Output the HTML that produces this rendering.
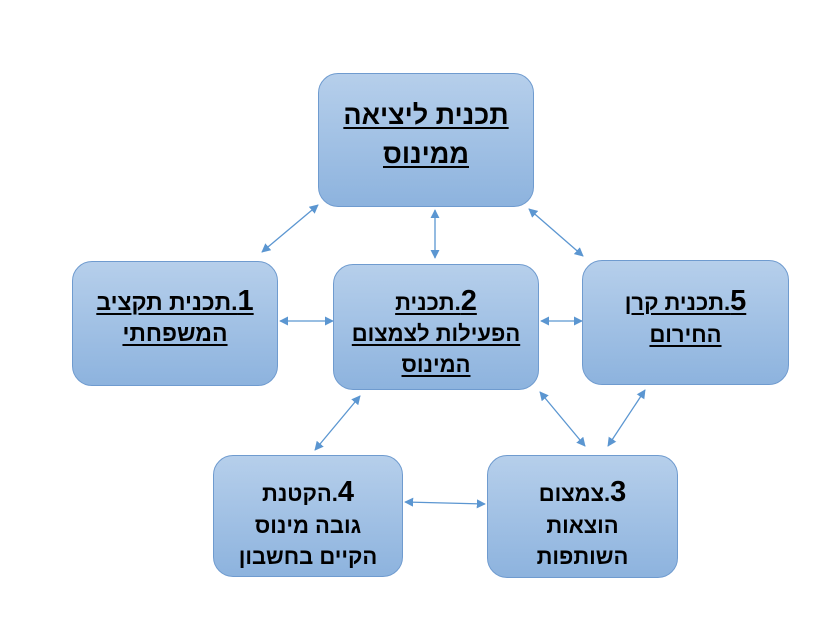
<!DOCTYPE html>
<html><head><meta charset="utf-8"><style>
body{margin:0;width:831px;height:630px;background:#fff;position:relative;overflow:hidden;font-family:"Liberation Sans","DejaVu Sans",sans-serif;}
.b{position:absolute;box-sizing:border-box;border:1.5px solid #6f9bcf;border-radius:20px;background:linear-gradient(#b6cfeb,#8db3de);}
.t{position:absolute;left:0;right:0;text-align:center;direction:rtl;font-weight:bold;font-size:22px;color:#000;line-height:1;}
.u{text-decoration:underline;text-decoration-thickness:2px;text-underline-offset:3px;}
.n{font-size:29px;}
</style></head><body>
<svg width="831" height="630" style="position:absolute;left:0;top:0">
<defs><marker id="a" viewBox="0 0 10 10" refX="9" refY="5" markerWidth="7" markerHeight="7" orient="auto-start-reverse"><path d="M0 0L10 5L0 10z" fill="#5b96d1"/></marker></defs>
<g stroke="#5b96d1" stroke-width="1.3" marker-start="url(#a)" marker-end="url(#a)">
<line x1="262" y1="252" x2="318" y2="205"/>
<line x1="435" y1="210" x2="435" y2="258"/>
<line x1="529" y1="209" x2="583" y2="256"/>
<line x1="280" y1="321" x2="333" y2="321"/>
<line x1="541" y1="321" x2="582" y2="321"/>
<line x1="315" y1="450" x2="360" y2="396"/>
<line x1="540" y1="392" x2="585" y2="446"/>
<line x1="608" y1="446" x2="645" y2="390"/>
<line x1="405" y1="502" x2="485" y2="504"/>
</g></svg>

<div class="b" style="left:318px;top:73px;width:216px;height:134px">
<div class="t u" style="top:28px;font-size:27px">תכנית ליציאה</div>
<div class="t u" style="top:67px;font-size:27px">ממינוס</div></div>

<div class="b" style="left:72px;top:261px;width:206px;height:125px">
<div class="t u" style="top:25px;font-size:23px"><span class="n">1</span>.תכנית תקציב</div>
<div class="t u" style="top:60px;font-size:23px">המשפחתי</div></div>

<div class="b" style="left:333px;top:264px;width:206px;height:126px">
<div class="t u" style="top:22px"><span class="n">2</span>.תכנית</div>
<div class="t u" style="top:58px">הפעילות לצמצום</div>
<div class="t u" style="top:89px">המינוס</div></div>

<div class="b" style="left:582px;top:260px;width:207px;height:125px">
<div class="t u" style="top:26px"><span class="n">5</span>.תכנית קרן</div>
<div class="t u" style="top:63px">החירום</div></div>

<div class="b" style="left:213px;top:455px;width:190px;height:122px">
<div class="t" style="top:22px"><span class="n">4</span>.הקטנת</div>
<div class="t" style="top:59px">גובה מינוס</div>
<div class="t" style="top:90px">הקיים בחשבון</div></div>

<div class="b" style="left:487px;top:455px;width:191px;height:123px">
<div class="t" style="top:22px"><span class="n">3</span>.צמצום</div>
<div class="t" style="top:59px">הוצאות</div>
<div class="t" style="top:90px">השותפות</div></div>
</body></html>
